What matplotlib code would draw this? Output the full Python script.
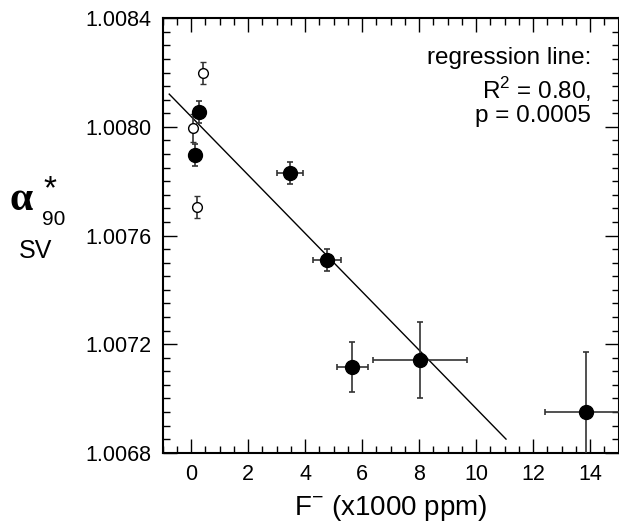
import matplotlib
matplotlib.use("Agg")
import matplotlib.pyplot as plt
from matplotlib.ticker import MultipleLocator, FormatStrFormatter
import numpy as np

plt.rcParams['font.family'] = ['Liberation Sans', 'DejaVu Sans']

# Open circles
open_x = [0.42, 0.07, 0.21]
open_y = [1.008199, 1.007996, 1.007705]
open_yerr = [0.00004, 0.00005, 0.00004]

# Filled circles
fill_x = [0.28, 0.14, 3.47, 4.78, 5.65, 8.02, 13.85]
fill_y = [1.008055, 1.007897, 1.00783, 1.00751, 1.007117, 1.007142, 1.006949]
fill_xerr = [0.0, 0.0, 0.45, 0.49, 0.54, 1.65, 1.42]
fill_yerr = [0.00004, 0.00004, 0.00004, 0.00004, 0.000092, 0.00014, 0.000223]

# Regression line
reg_x = [-0.77, 11.05]
reg_slope = -0.0001075
reg_intercept = 1.008038

x_ticks = [0, 2, 4, 6, 8, 10, 12, 14]
y_ticks = [1.0068, 1.0072, 1.0076, 1.0080, 1.0084]

fig = plt.figure(figsize=(6.19, 5.23), dpi=100)
ax = fig.add_axes([0.2628, 0.1344, 0.7365, 0.8306])

rx = np.array(reg_x)
ax.plot(rx, reg_intercept + reg_slope * rx, color='black', lw=1.0, zorder=2)

ax.errorbar(fill_x, fill_y, xerr=fill_xerr, yerr=fill_yerr, fmt='o',
            color='black', ms=10, ecolor='#333333', elinewidth=1.2,
            capsize=2.5, capthick=1.2, zorder=3)
ax.errorbar(open_x, open_y, yerr=open_yerr, fmt='o', mfc='white',
            mec='black', mew=1.0, ms=7, ecolor='#333333', elinewidth=1.2,
            capsize=2.5, capthick=1.2, zorder=3)

ax.set_xlim(-1, 15)
ax.set_ylim(1.0068, 1.0084)
ax.set_xticks(x_ticks)
ax.set_yticks(y_ticks)
ax.xaxis.set_minor_locator(MultipleLocator(0.5))
ax.yaxis.set_minor_locator(MultipleLocator(0.00005))
ax.yaxis.set_major_formatter(FormatStrFormatter('%.4f'))
ax.tick_params(which='both', direction='in', top=True, right=True,
               labelsize=15.5, width=1.0)
ax.tick_params(which='major', length=10, pad=8)
ax.tick_params(which='minor', length=5)
for s in ax.spines.values():
    s.set_linewidth(1.5)

ax.set_xlabel('F$^{\\mathregular{-}}$ (x1000 ppm)', fontsize=20, labelpad=6)

ax.text(0.94, 0.909, 'regression line:', transform=ax.transAxes,
        ha='right', va='center', fontsize=17.5)
ax.text(0.94, 0.837, 'R$^{\\mathregular{2}}$ = 0.80,', transform=ax.transAxes,
        ha='right', va='center', fontsize=17.5)
ax.text(0.94, 0.775, 'p = 0.0005', transform=ax.transAxes,
        ha='right', va='center', fontsize=17.5)

fig.text(0.034, 0.618, 'α', fontsize=30, fontweight='bold',
         family=['Liberation Serif', 'DejaVu Serif'], ha='center', va='center')
fig.text(0.081, 0.637, '*', fontsize=24, ha='center', va='center')
fig.text(0.087, 0.581, '90', fontsize=15, ha='center', va='center')
fig.text(0.057, 0.52, 'SV', fontsize=18, ha='center', va='center')

fig.savefig('out.png', dpi=100)
